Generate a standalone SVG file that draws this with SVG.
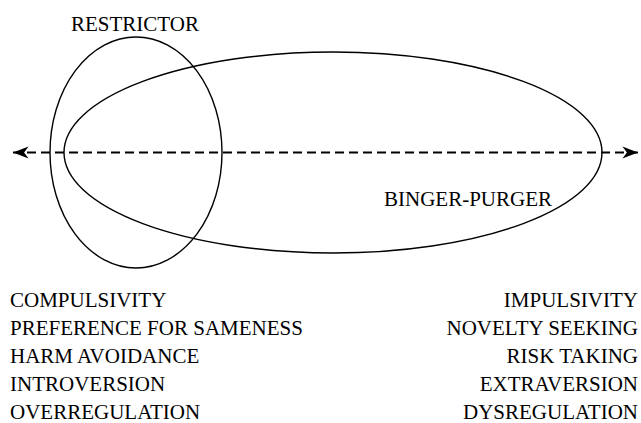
<svg xmlns="http://www.w3.org/2000/svg" width="641" height="423" viewBox="0 0 641 423">
<style>
.shape{fill:none;stroke:#000;stroke-width:1.4}
.axis{stroke:#000;stroke-width:1.8;stroke-dasharray:9 5;fill:none}
text{font-family:"Liberation Serif","Times New Roman",serif;font-size:21px;fill:#000}
.r{text-anchor:end}
</style>
<defs>
<marker id="ah" markerUnits="userSpaceOnUse" markerWidth="20" markerHeight="20" refX="0" refY="0" viewBox="-16 -8 18 16" orient="auto-start-reverse" overflow="visible">
<path d="M0,0 L-14,-5.5 L-10,0 L-14,5.5 Z" fill="#000"/>
</marker>
</defs>
<rect width="641" height="423" fill="#fff"/>
<g id="restrictor">
<ellipse class="shape" cx="136" cy="152.5" rx="86" ry="115.5"/>
<text x="71" y="31">RESTRICTOR</text>
</g>
<g id="binger-purger">
<ellipse class="shape" cx="333" cy="152.5" rx="269" ry="100.5"/>
<text x="384" y="206">BINGER-PURGER</text>
</g>
<g id="connectors">
<line class="axis" x1="13" y1="152.5" x2="638" y2="152.5" marker-start="url(#ah)" marker-end="url(#ah)"/>
</g>
<g id="left-labels">
<text x="10" y="307">COMPULSIVITY</text>
<text x="10" y="335">PREFERENCE FOR SAMENESS</text>
<text x="10" y="363">HARM AVOIDANCE</text>
<text x="10" y="391">INTROVERSION</text>
<text x="10" y="419">OVERREGULATION</text>
</g>
<g id="right-labels">
<text class="r" x="638" y="307">IMPULSIVITY</text>
<text class="r" x="638" y="335">NOVELTY SEEKING</text>
<text class="r" x="638" y="363">RISK TAKING</text>
<text class="r" x="638" y="391">EXTRAVERSION</text>
<text class="r" x="638" y="419">DYSREGULATION</text>
</g>
</svg>
